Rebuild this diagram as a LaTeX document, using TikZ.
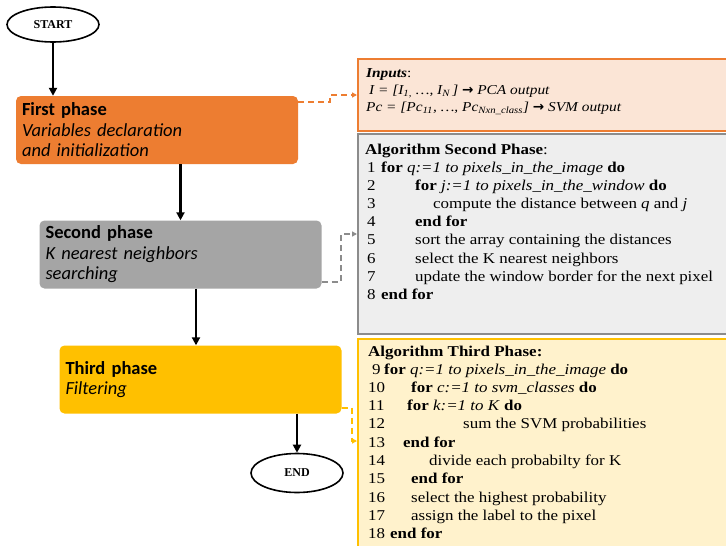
\documentclass[tikz,border=0pt]{standalone}
\usepackage{fontspec}
\setmainfont{Liberation Serif}
\newfontfamily\algfont[FakeStretch=1.13]{Liberation Serif}
\newfontfamily\phasefont{Carlito}
\newfontfamily\arrowfont{DejaVu Sans}
\usetikzlibrary{arrows.meta,shapes.geometric}

\definecolor{phaseorange}{HTML}{ED7D31}
\definecolor{paleorange}{HTML}{FBE5D6}
\definecolor{phasegray}{HTML}{A5A5A5}
\definecolor{panelgray}{HTML}{8C8C8C}
\definecolor{palegray}{HTML}{EEEEEE}
\definecolor{phasegold}{HTML}{FFC000}
\definecolor{palegold}{HTML}{FFF2CC}

\newcommand{\rarr}{{\arrowfont\bfseries →}}

\begin{document}
\begin{tikzpicture}[x=1pt,y=-1pt,
  terminal/.style={ellipse, draw, line width=1.6pt, minimum width=92pt,
    inner sep=0pt, font=\fontsize{12}{14}\selectfont\bfseries},
  phasebox/.style={rectangle, rounded corners=5pt, minimum width=282pt,
    minimum height=68pt, text width=270pt, align=left, inner xsep=6pt,
    inner ysep=0pt, font=\phasefont\fontsize{18.5}{20.5}\selectfont},
  flow/.style={-{Triangle[length=8pt,width=8pt]}, line width=2.2pt},
  link/.style={dash pattern=on 6pt off 4pt, line width=1.6pt,
    -{Triangle[length=5pt,width=5pt]}},
  panel/.style={rectangle, draw, line width=2pt, anchor=north west,
    inner sep=0pt},
  alg/.style={anchor=base west, inner sep=0pt,
    font=\algfont\fontsize{15}{18}\selectfont},
  inputline/.style={alg, font=\algfont\fontsize{13.6}{17}\selectfont}]

\useasboundingbox (0,0) rectangle (726,546);
\fill[white] (0,0) rectangle (726,546);

% flow chart on the left
\node[terminal, minimum height=35pt] (start) at (53,24.5) {START};
\node[phasebox, fill=phaseorange] (p1) at (157,130)
  {\textbf{First phase}\\\textit{Variables declaration}\\\textit{and initialization}};
\node[phasebox, fill=phasegray] (p2) at (180.5,254.5)
  {\textbf{Second phase}\\\textit{K nearest neighbors}\\\textit{searching}};
\node[phasebox, fill=phasegold] (p3) at (200.5,379.5)
  {\textbf{Third phase}\\\textit{Filtering}};
\node[terminal, minimum height=39pt] (stop) at (297,473) {END};

\draw[flow] (start.south) -- (start.south |- p1.north);
\draw[flow] (p2.north |- p1.south) -- (p2.north);
\draw[flow] ([xshift=-4.5pt]p3.north |- p2.south) -- ([xshift=-4.5pt]p3.north);
\draw[flow] (stop.north |- p3.south) -- (stop.north);

% detail panels on the right
\node[panel, draw=phaseorange, fill=paleorange, minimum width=390pt,
  minimum height=72pt] (inp) at (357,58) {};
\node[panel, draw=panelgray, fill=palegray, minimum width=390pt,
  minimum height=200pt] (alg2) at (357,133) {};
\node[panel, draw=phasegold, fill=palegold, minimum width=390pt,
  minimum height=230pt] (alg3) at (357,338) {};

\draw[link, draw=phaseorange]
  ([yshift=-6pt]p1.north east) -- ++(32,0) |- (inp.west);
\draw[link, draw=panelgray]
  ([yshift=7pt]p2.south east) -- ++(19,0) |- (alg2.west);
\draw[link, draw=phasegold]
  ([yshift=6pt]p3.south east) -- ++(10,0) |- ([yshift=-103pt]alg3.north west);

% inputs
\node[inputline] (in0) at (366,77) {\textbf{\textit{Inputs}}:};
\node[inputline] (in1) at (369,94)
  {\textit{I = [I\textsubscript{1,} …, I\textsubscript{N}\,]} \rarr\ \textit{PCA output}};
\node[inputline] (in2) at (366,111)
  {\textit{Pc = [Pc\textsubscript{11}, …, Pc\textsubscript{Nxn\_class}]} \rarr\ \textit{SVM output}};

% second phase algorithm
\node[alg] (h2) at (365,154) {\textbf{Algorithm Second Phase}:};
\node[alg] (n1) at (367,172.0) {1};
\node[alg] (s1) at (381,172.0) {\textbf{for} \textit{q:=1 to pixels\_in\_the\_image} \textbf{do}};
\node[alg] (n2) at (367,190.2) {2};
\node[alg] (s2) at (415,190.2) {\textbf{for} \textit{j:=1 to pixels\_in\_the\_window} \textbf{do}};
\node[alg] (n3) at (367,208.4) {3};
\node[alg] (s3) at (433,208.4) {compute the distance between \textit{q} and \textit{j}};
\node[alg] (n4) at (367,226.6) {4};
\node[alg] (s4) at (415,226.6) {\textbf{end for}};
\node[alg] (n5) at (367,244.8) {5};
\node[alg] (s5) at (415,244.8) {sort the array containing the distances};
\node[alg] (n6) at (367,263.0) {6};
\node[alg] (s6) at (415,263.0) {select the K nearest neighbors};
\node[alg] (n7) at (367,281.2) {7};
\node[alg] (s7) at (415,281.2) {update the window border for the next pixel};
\node[alg] (n8) at (367,299.4) {8};
\node[alg] (s8) at (381,299.4) {\textbf{end for}};

% third phase algorithm
\node[alg] (h3) at (368,356) {\textbf{Algorithm Third Phase:}};
\node[alg] (n9)  at (372,374.0) {9};
\node[alg] (s9)  at (384,374.0) {\textbf{for} \textit{q:=1 to pixels\_in\_the\_image} \textbf{do}};
\node[alg] (n10) at (368,392.3) {10};
\node[alg] (s10) at (411,392.3) {\textbf{for} \textit{c:=1 to svm\_classes} \textbf{do}};
\node[alg] (n11) at (368,410.6) {11};
\node[alg] (s11) at (407,410.6) {\textbf{for} \textit{k:=1 to K} \textbf{do}};
\node[alg] (n12) at (368,428.9) {12};
\node[alg] (s12) at (463,428.9) {sum the SVM probabilities};
\node[alg] (n13) at (368,447.2) {13};
\node[alg] (s13) at (403,447.2) {\textbf{end for}};
\node[alg] (n14) at (368,465.5) {14};
\node[alg] (s14) at (429,465.5) {divide each probabilty for K};
\node[alg] (n15) at (368,483.8) {15};
\node[alg] (s15) at (411,483.8) {\textbf{end for}};
\node[alg] (n16) at (368,502.1) {16};
\node[alg] (s16) at (411,502.1) {select the highest probability};
\node[alg] (n17) at (368,520.4) {17};
\node[alg] (s17) at (411,520.4) {assign the label to the pixel};
\node[alg] (n18) at (368,538.7) {18};
\node[alg] (s18) at (390,538.7) {\textbf{end for}};
\end{tikzpicture}
\end{document}
